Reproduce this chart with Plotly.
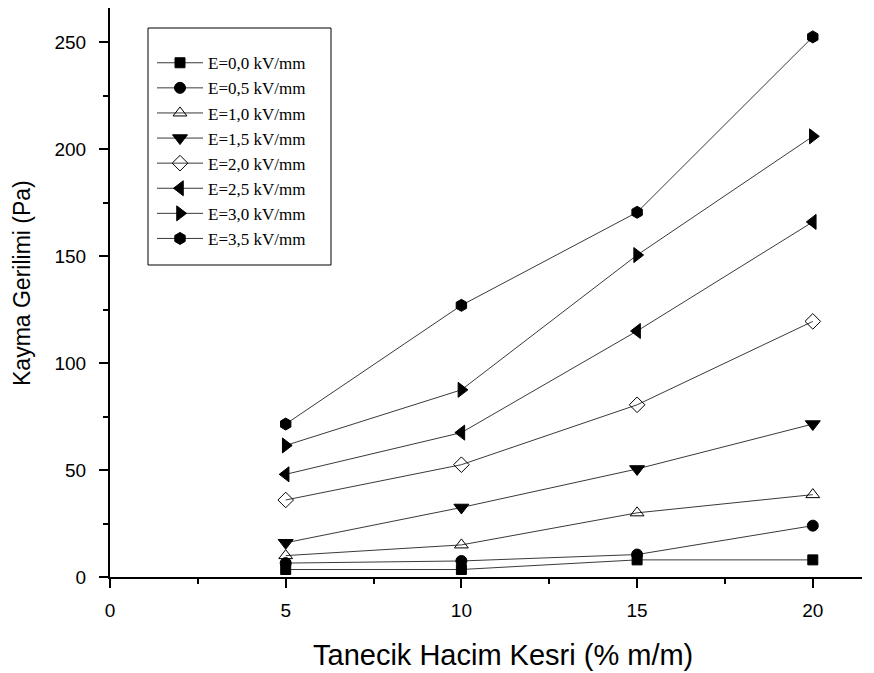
import plotly.graph_objects as go

x_vals = [5, 10, 15, 20]
series_names = ["E=0,0 kV/mm", "E=0,5 kV/mm", "E=1,0 kV/mm", "E=1,5 kV/mm",
                "E=2,0 kV/mm", "E=2,5 kV/mm", "E=3,0 kV/mm", "E=3,5 kV/mm"]
e00 = [3.5, 3.5, 8, 8]
e05 = [6.5, 7.5, 10.5, 24]
e10 = [10, 15, 30, 38.5]
e15 = [16, 32.5, 50.5, 71.5]
e20 = [36, 52.5, 80.5, 119.5]
e25 = [48, 67.5, 115, 166]
e30 = [61.5, 87.5, 150.5, 206]
e35 = [71.5, 127, 170.5, 252.5]
all_series = [e00, e05, e10, e15, e20, e25, e30, e35]
symbols = ["square", "circle", "triangle-up-open", "triangle-down",
           "diamond-open", "triangle-left", "triangle-right", "hexagon"]
sizes = [10, 11, 12, 13, 12, 13, 13, 12]
x_title = "Tanecik Hacim Kesri (% m/m)"
y_title = "Kayma Gerilimi (Pa)"

fig = go.Figure()
for name, ys, sym, sz in zip(series_names, all_series, symbols, sizes):
    fig.add_trace(go.Scatter(
        x=x_vals, y=ys, mode="lines+markers", name=name,
        line=dict(color="#3a3a3a", width=1),
        marker=dict(symbol=sym, size=sz, color="black",
                    line=dict(color="black", width=1)),
    ))

# plot area in pixels: left 110, right 862, top 8, bottom 577
L, R, T, B = 110, 862, 8, 577
def px(xp):
    return (xp - L) / (R - L)
def py(yp):
    return (B - yp) / (B - T)

axis_font = dict(family="Liberation Sans, Arial, sans-serif", size=19, color="black")
fig.update_layout(
    width=874, height=673,
    margin=dict(l=L, r=874 - R, t=T, b=673 - B),
    paper_bgcolor="white", plot_bgcolor="white",
    showlegend=True,
    legend=dict(
        x=px(152), y=py(27), xanchor="left", yanchor="top",
        borderwidth=0, bgcolor="rgba(0,0,0,0)",
        font=dict(family="Liberation Serif, Times New Roman, serif", size=17, color="black"),
        tracegroupgap=0, itemwidth=46,
        title=dict(text=" ", font=dict(size=14)),
    ),
    shapes=[dict(type="rect", xref="paper", yref="paper",
                 x0=px(148), x1=px(331), y0=py(265), y1=py(28),
                 line=dict(color="black", width=1), fillcolor="white", layer="below")],
    annotations=[
        dict(text=x_title, xref="paper", yref="paper", x=px(503), y=py(655),
             xanchor="center", yanchor="middle", showarrow=False,
             font=dict(family="Liberation Sans, Arial, sans-serif", size=29, color="black")),
        dict(text=y_title, xref="paper", yref="paper", x=px(22), y=py(283),
             xanchor="center", yanchor="middle", showarrow=False, textangle=-90,
             font=dict(family="Liberation Sans, Arial, sans-serif", size=23, color="black")),
    ],
    xaxis=dict(
        range=[0, 21.4], tickvals=[0, 5, 10, 15, 20],
        showgrid=False, zeroline=False, showline=True, linecolor="black", linewidth=2,
        ticks="outside", ticklen=9, tickwidth=2, tickcolor="black",
        minor=dict(ticks="outside", ticklen=5, tickwidth=1.5, tickcolor="black", dtick=2.5, tick0=0),
        tickfont=axis_font, ticklabelstandoff=6,
    ),
    yaxis=dict(
        range=[0, 266], tickvals=[0, 50, 100, 150, 200, 250],
        showgrid=False, zeroline=False, showline=True, linecolor="black", linewidth=2,
        ticks="outside", ticklen=9, tickwidth=2, tickcolor="black",
        minor=dict(ticks="outside", ticklen=5, tickwidth=1.5, tickcolor="black", dtick=25, tick0=0),
        tickfont=axis_font, ticklabelstandoff=9,
    ),
)
fig.write_html("out.html")
